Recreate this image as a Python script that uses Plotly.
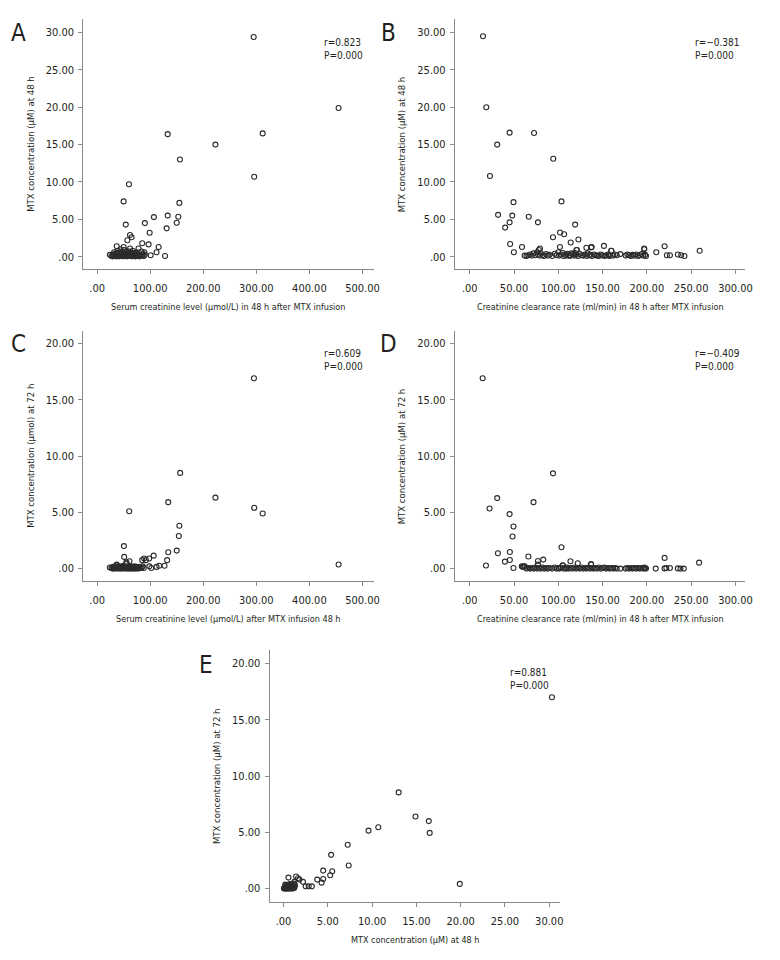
import plotly.graph_objects as go

# ---------------- data ----------------
# Panel A: serum creatinine (x) vs MTX at 48 h (y)
A_x = [295, 455, 312, 223, 133, 156, 296, 60, 50, 155, 133, 153, 107, 150, 90, 54, 131, 99, 62, 65, 57, 85, 97, 116, 112, 101, 128,
       24, 27, 29, 30, 31, 32, 33, 34, 35, 36, 37, 37, 38, 39, 40, 41, 42, 43, 44, 45, 46, 47, 48, 49, 50, 50, 51, 52, 53, 54,
       55, 56, 57, 58, 59, 60, 61, 62, 63, 64, 65, 66, 67, 68, 69, 70, 71, 72, 73, 74, 75, 76, 78, 79, 80, 82, 84, 85, 86, 88, 89, 90]
A_y = [29.4, 19.9, 16.5, 15.0, 16.4, 13.0, 10.7, 9.7, 7.4, 7.2, 5.5, 5.35, 5.3, 4.55, 4.5, 4.3, 3.8, 3.2, 2.9, 2.6, 2.2, 1.8, 1.65, 1.3, 0.6, 0.2, 0.1,
       0.25, 0.1, 0.05, 0.3, 0.15, 0.6, 0.1, 0.4, 0.2, 0.05, 1.4, 0.5, 0.15, 0.8, 0.3, 0.05, 0.55, 0.2, 1.0, 0.1, 0.35, 0.7, 0.15, 0.05, 1.3, 0.4, 0.9, 0.2, 0.6, 0.1,
       0.3, 0.05, 0.75, 0.2, 0.45, 0.1, 0.3, 1.1, 0.15, 0.55, 0.05, 0.35, 0.8, 0.2, 0.1, 0.5, 0.25, 0.05, 0.4, 0.15, 0.6, 0.1, 1.1, 0.3, 0.05, 0.2, 0.7, 0.15, 0.4, 0.1, 0.6, 0.25]

# Panel B: creatinine clearance (x) vs MTX at 48 h (y)
B_x = [15, 18.7, 31, 45, 72.6, 22.8, 94.3, 49.4, 103.6, 32, 48, 66.6, 45, 77, 119, 40, 102, 106.6, 94, 122.7, 114, 45.6, 59, 101.8,
       137.7, 151.5, 131.7, 49.8, 197, 220, 210.6, 259.6, 235, 238.7, 242.4, 222.6, 226, 159.7, 79.3, 120.5,
       62, 64, 66, 68, 70, 72, 74, 76, 77, 78, 79, 80, 82, 84, 86, 88, 90, 93, 96, 98, 100, 101, 103, 105, 106, 108, 109, 110,
       112, 113, 115, 116, 118, 119, 120, 121, 122, 124, 126, 128, 130, 132, 133, 135, 136, 137, 138, 140, 142, 144, 146, 148,
       150, 152, 154, 156, 157, 158, 160, 162, 164, 166, 170, 176, 178, 180, 182, 184, 186, 188, 190, 192, 194, 196, 197, 198, 199]
B_y = [29.5, 20.0, 15.0, 16.6, 16.55, 10.8, 13.1, 7.3, 7.4, 5.6, 5.5, 5.35, 4.6, 4.6, 4.3, 3.9, 3.25, 3.0, 2.6, 2.3, 1.9, 1.7, 1.3, 1.3,
       1.3, 1.45, 1.2, 0.6, 1.1, 1.4, 0.6, 0.8, 0.3, 0.2, 0.1, 0.2, 0.2, 0.8, 1.1, 0.9,
       0.15, 0.1, 0.2, 0.3, 0.15, 0.45, 0.2, 0.6, 0.3, 0.9, 0.15, 0.5, 0.2, 0.1, 0.35, 0.15, 0.25, 0.1, 0.4, 0.2, 0.6, 0.15, 0.3, 0.5, 0.1, 0.25, 0.15, 0.4,
       0.2, 0.1, 0.45, 0.3, 0.15, 0.5, 0.25, 0.9, 0.1, 0.4, 0.2, 0.15, 0.3, 0.1, 0.45, 0.2, 0.25, 1.25, 0.1, 0.3, 0.2, 0.15, 0.1, 0.3,
       0.2, 0.1, 0.15, 0.3, 0.2, 0.1, 0.8, 0.15, 0.3, 0.2, 0.35, 0.15, 0.3, 0.2, 0.1, 0.25, 0.15, 0.3, 0.1, 0.2, 0.35, 0.15, 1.0, 0.25, 0.1]

# Panel C: serum creatinine (x) vs MTX at 72 h (y)
C_x = [295.5, 156.5, 223, 134, 296, 312, 60.5, 155, 154, 50.5, 150, 134, 51, 106.6, 98, 88.5, 92, 85, 132, 127, 455, 117, 112, 102, 98.5, 61, 55, 37,
       24, 27, 29, 30, 31, 32, 33, 34, 35, 36, 37, 38, 39, 40, 41, 42, 43, 44, 45, 46, 47, 48, 49, 50, 51, 52, 53, 54, 55, 56,
       57, 58, 59, 60, 61, 62, 63, 64, 65, 66, 67, 68, 69, 70, 71, 72, 73, 74, 75, 76, 78, 80, 82, 84, 86, 88]
C_y = [16.9, 8.5, 6.3, 5.9, 5.4, 4.9, 5.1, 3.8, 2.9, 2.0, 1.6, 1.45, 1.04, 1.15, 0.9, 0.9, 0.75, 0.75, 0.75, 0.25, 0.36, 0.25, 0.15, 0.06, 0.2, 0.65, 0.55, 0.35,
       0.1, 0.05, 0.0, 0.15, 0.05, 0.1, 0.0, 0.2, 0.05, 0.1, 0.3, 0.0, 0.15, 0.05, 0.1, 0.2, 0.0, 0.1, 0.05, 0.15, 0.0, 0.1, 0.25, 0.05, 0.1, 0.0, 0.2, 0.05, 0.1, 0.45,
       0.0, 0.15, 0.05, 0.1, 0.0, 0.2, 0.05, 0.1, 0.0, 0.15, 0.05, 0.1, 0.0, 0.2, 0.05, 0.1, 0.0, 0.15, 0.05, 0.1, 0.0, 0.15, 0.05, 0.1, 0.2, 0.05]

# Panel D: creatinine clearance (x) vs MTX at 72 h (y)
D_x = [14.6, 94, 31, 22.4, 72, 45, 49.4, 48.3, 103.6, 45.3, 31.8, 66.2, 220, 83, 77, 39.7, 45.3, 113.7, 122, 18.3, 259, 105, 137, 49.4,
       58.7, 61.4, 210, 220, 222, 226, 235, 238, 241.7,
       60, 62, 64, 66, 68, 70, 72, 74, 76, 77, 78, 80, 82, 84, 86, 88, 90, 93, 96, 98, 100, 101, 103, 105, 106, 108, 109, 110,
       112, 114, 116, 118, 120, 122, 124, 126, 128, 130, 132, 134, 136, 137, 138, 140, 142, 144, 146, 148, 150, 152, 154, 156,
       158, 160, 162, 164, 166, 170, 176, 178, 180, 182, 184, 186, 188, 190, 192, 194, 196, 197, 198, 199]
D_y = [16.9, 8.46, 6.26, 5.34, 5.9, 4.84, 3.74, 2.85, 1.9, 1.48, 1.36, 1.07, 0.95, 0.8, 0.68, 0.62, 0.77, 0.65, 0.47, 0.27, 0.53, 0.27, 0.36, 0.06,
       0.2, 0.2, 0.0, 0.02, 0.05, 0.05, 0.02, 0.0, 0.0,
       0.15, 0.2, 0.0, 0.05, 0.0, 0.05, 0.0, 0.1, 0.0, 0.35, 0.05, 0.0, 0.1, 0.0, 0.05, 0.0, 0.05, 0.0, 0.1, 0.0, 0.05, 0.0, 0.1, 0.3, 0.0, 0.05, 0.0, 0.1,
       0.0, 0.05, 0.0, 0.1, 0.0, 0.05, 0.0, 0.1, 0.0, 0.05, 0.0, 0.1, 0.0, 0.4, 0.05, 0.0, 0.05, 0.0, 0.1, 0.0, 0.05, 0.1, 0.0, 0.05,
       0.0, 0.05, 0.0, 0.05, 0.0, 0.0, 0.0, 0.05, 0.0, 0.05, 0.0, 0.05, 0.0, 0.05, 0.0, 0.05, 0.0, 0.1, 0.05, 0.0]

# Panel E: MTX at 48 h (x) vs MTX at 72 h (y)
E_x = [30.3, 13.0, 14.9, 16.4, 16.5, 10.7, 9.6, 7.25, 7.36, 5.38, 19.9, 4.48, 5.5, 5.27, 4.48, 3.81, 4.3, 3.2, 2.84, 2.5, 2.2, 1.8, 1.42, 1.64, 0.56, 1.23,
       0.05, 0.1, 0.15, 0.2, 0.25, 0.3, 0.35, 0.4, 0.45, 0.5, 0.55, 0.6, 0.65, 0.7, 0.75, 0.8, 0.85, 0.9, 0.95, 1.0, 1.05, 1.1,
       1.15, 1.2, 1.25, 1.3, 0.2, 0.4, 0.6, 0.8, 1.0, 0.3, 0.5, 0.7, 0.9, 1.1]
E_y = [17.0, 8.55, 6.4, 6.0, 4.95, 5.45, 5.15, 3.9, 2.05, 3.0, 0.42, 1.6, 1.54, 1.19, 0.86, 0.8, 0.53, 0.2, 0.2, 0.2, 0.6, 0.8, 1.07, 0.92, 0.98, 0.6,
       0.0, 0.05, 0.1, 0.0, 0.2, 0.05, 0.3, 0.0, 0.1, 0.15, 0.0, 0.25, 0.05, 0.4, 0.1, 0.0, 0.2, 0.05, 0.35, 0.1, 0.0, 0.2,
       0.45, 0.05, 0.15, 0.3, 0.35, 0.2, 0.05, 0.3, 0.4, 0.15, 0.3, 0.15, 0.25, 0.05]

# tick labels
creat_ticks = [0, 100, 200, 300, 400, 500]
creat_labels = [".00", "100.00", "200.00", "300.00", "400.00", "500.00"]
ccr_ticks = [0, 50, 100, 150, 200, 250, 300]
ccr_labels = [".00", "50.00", "100.00", "150.00", "200.00", "250.00", "300.00"]
mtx30_ticks = [0, 5, 10, 15, 20, 25, 30]
mtx30_labels = [".00", "5.00", "10.00", "15.00", "20.00", "25.00", "30.00"]
mtx20_ticks = [0, 5, 10, 15, 20]
mtx20_labels = [".00", "5.00", "10.00", "15.00", "20.00"]

panel_letters = ["A", "B", "C", "D", "E"]
r_texts = ["r=0.823", "r=\u22120.381", "r=0.609", "r=\u22120.409", "r=0.881"]
p_texts = ["P=0.000"] * 5
x_titles = ["Serum creatinine level (\u03bcmol/L) in 48 h after MTX infusion",
            "Creatinine clearance rate (ml/min) in 48 h after MTX infusion",
            "Serum creatinine level (\u03bcmol/L) after MTX infusion 48 h",
            "Creatinine clearance rate (ml/min) in 48 h after MTX infusion",
            "MTX concentration (\u03bcM) at 48 h"]
y_titles = ["MTX concentration (\u03bcM) at 48 h",
            "MTX concentration (\u03bcM) at 48 h",
            "MTX concentration (\u03bcmol) at 72 h",
            "MTX concentration (\u03bcM) at 72 h",
            "MTX concentration (\u03bcM) at 72 h"]

# ---------------- layout geometry (pixels of the 780x960 page) ----------------
PAGE_OFF = 8              # default body margin of the html page
W, H = 764, 944           # figure size so the page fits without scrollbars
FONT = "DejaVu Sans Condensed, Liberation Sans Narrow, sans-serif"
TXT = "#231f20"
AXC = "#8a8a8a"

# (left, right, top, bottom) of plot areas, in page px
boxes = [(84, 377, 19, 269), (459, 752, 19, 269),
         (84, 377, 331, 581), (459, 752, 331, 581),
         (272, 565, 650, 902)]
xranges = [[-26, 521], [-16.8, 311], [-26, 521], [-16.8, 311], [-1.57, 31.2]]
yranges = [[-1.64, 31.8], [-1.64, 31.8], [-1.1, 21.1], [-1.1, 21.1], [-1.19, 21.2]]
xt = [(creat_ticks, creat_labels), (ccr_ticks, ccr_labels), (creat_ticks, creat_labels),
      (ccr_ticks, ccr_labels), (mtx30_ticks, mtx30_labels)]
yt = [(mtx30_ticks, mtx30_labels), (mtx30_ticks, mtx30_labels), (mtx20_ticks, mtx20_labels),
      (mtx20_ticks, mtx20_labels), (mtx20_ticks, mtx20_labels)]
data = [(A_x, A_y), (B_x, B_y), (C_x, C_y), (D_x, D_y), (E_x, E_y)]


def px(x):
    return (x - PAGE_OFF) / W


def py(y):
    return 1 - (y - PAGE_OFF) / H


fig = go.Figure()
layout = dict(width=W, height=H, margin=dict(l=0, r=0, t=0, b=0),
              paper_bgcolor="white", plot_bgcolor="white", showlegend=False,
              font=dict(family=FONT, color=TXT, size=11))
annotations = []

for i in range(5):
    l, r, t, b = boxes[i]
    sfx = "" if i == 0 else str(i + 1)
    xs, ys = data[i]
    fig.add_trace(go.Scatter(x=xs, y=ys, mode="markers",
                             xaxis="x" + sfx, yaxis="y" + sfx,
                             marker=dict(symbol="circle-open", size=5, color="#2b2b2b",
                                         line=dict(width=1.1, color="#2b2b2b")),
                             hoverinfo="x+y"))
    common = dict(showgrid=False, zeroline=False, showline=True, linecolor=AXC, linewidth=1,
                  ticks="outside", ticklen=4, tickcolor=AXC, tickwidth=1,
                  tickfont=dict(family=FONT, size=11, color=TXT), fixedrange=True)
    layout["xaxis" + sfx] = dict(domain=[px(l), px(r)], range=xranges[i], anchor="y" + sfx,
                                 tickmode="array", tickvals=xt[i][0], ticktext=xt[i][1],
                                 ticklabelstandoff=5, **common)
    layout["yaxis" + sfx] = dict(domain=[py(b), py(t)], range=yranges[i], anchor="x" + sfx,
                                 tickmode="array", tickvals=yt[i][0], ticktext=yt[i][1],
                                 ticklabelstandoff=2, **common)
    # axis titles
    annotations.append(dict(text=x_titles[i], x=px((l + r) / 2), y=py(b + 38), xref="paper", yref="paper",
                            xanchor="center", yanchor="middle", showarrow=False,
                            font=dict(family=FONT, size=9, color=TXT)))
    annotations.append(dict(text=y_titles[i], x=px(l - 54), y=py((t + b) / 2), xref="paper", yref="paper",
                            xanchor="center", yanchor="middle", textangle=-90, showarrow=False,
                            font=dict(family=FONT, size=9.5, color=TXT)))

# panel letters
letter_pos = [(19, 33), (392, 33), (19, 344), (392, 344), (208, 665)]
for lt, (lx, ly) in zip(panel_letters, letter_pos):
    annotations.append(dict(text=lt, x=px(lx), y=py(ly), xref="paper", yref="paper",
                            xanchor="center", yanchor="middle", showarrow=False,
                            font=dict(family=FONT, size=24, color=TXT)))

# statistics (r and P on two lines)
stat_pos = [(325, 49), (699, 49), (325, 360), (699, 360), (513, 679)]
for rt, pt, (sx, sy) in zip(r_texts, p_texts, stat_pos):
    annotations.append(dict(text=rt + "<br>" + pt, x=px(sx), y=py(sy), xref="paper", yref="paper",
                            xanchor="left", yanchor="middle", align="left", showarrow=False,
                            font=dict(family=FONT, size=10, color=TXT)))

layout["annotations"] = annotations
fig.update_layout(**layout)
fig.write_html("out.html")
